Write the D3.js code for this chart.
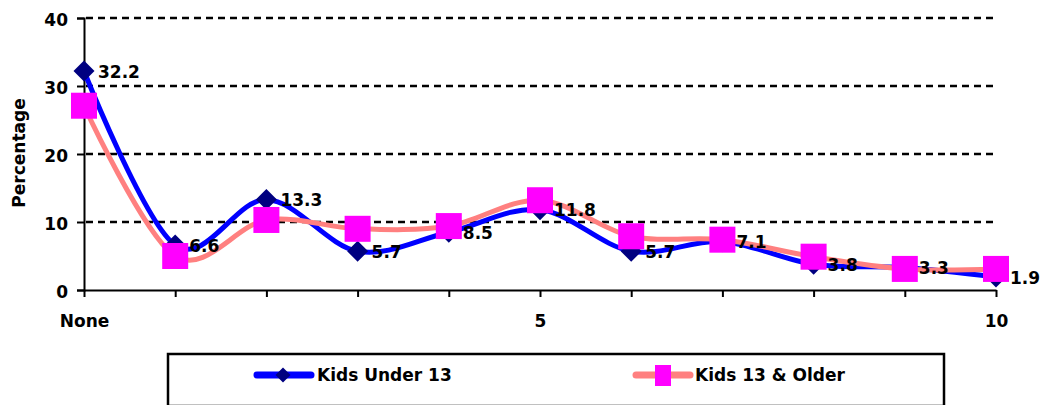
<!DOCTYPE html>
<html>
<head>
<meta charset="utf-8">
<script src="https://cdn.jsdelivr.net/npm/d3@7"></script>
<style>
  html, body { margin: 0; padding: 0; background: #fff; }
  svg text { font-family: "DejaVu Sans", sans-serif; font-weight: bold; }
</style>
</head>
<body>
<svg id="chart" width="1047" height="405"></svg>
<script>
const categories = ["None", "1", "2", "3", "4", "5", "6", "7", "8", "9", "10"];
const categoryLabels = ["None", "", "", "", "", "5", "", "", "", "", "10"];
const kidsUnder13 = [32.2, 6.6, 13.3, 5.7, 8.5, 11.8, 5.7, 7.1, 3.8, 3.3, 1.9];
const kids13Older = [27.1, 5.0, 10.3, 9.0, 9.4, 13.2, 7.9, 7.4, 4.9, 3.1, 3.1];
const yTicks = [0, 10, 20, 30, 40];
const seriesNames = ["Kids Under 13", "Kids 13 & Older"];

const svg = d3.select("#chart");
const x = d3.scalePoint().domain(categories).range([84, 996]);
const y = d3.scaleLinear().domain([0, 40]).range([290, 18]);

// gridlines
svg.append("g").selectAll("line").data(yTicks.filter(d => d > 0)).join("line")
  .attr("x1", 86).attr("x2", 998)
  .attr("y1", d => y(d)).attr("y2", d => y(d))
  .attr("stroke", "#000").attr("stroke-width", 2.5)
  .attr("stroke-dasharray", "7,5");

// y axis
const yAxis = svg.append("g").attr("transform", "translate(84,0)")
  .call(d3.axisLeft(y).tickValues(yTicks).tickSize(7).tickPadding(9).tickFormat(d3.format("d")));
yAxis.select(".domain").attr("stroke", "#000").attr("stroke-width", 2);
yAxis.selectAll(".tick line").attr("stroke", "#000").attr("stroke-width", 2);
yAxis.selectAll(".tick text").attr("font-size", 17).attr("fill", "#000")
  .attr("font-family", "DejaVu Sans").attr("font-weight", "bold").attr("dy", "0.42em");

// x axis
const xAxis = svg.append("g").attr("transform", "translate(0,290)")
  .call(d3.axisBottom(x).tickSize(7).tickSizeOuter(0).tickPadding(18)
    .tickFormat((d, i) => categoryLabels[i]));
xAxis.select(".domain").attr("stroke", "#000").attr("stroke-width", 2);
xAxis.selectAll(".tick line").attr("stroke", "#000").attr("stroke-width", 2);
xAxis.selectAll(".tick text").attr("font-size", 17).attr("fill", "#000")
  .attr("font-family", "DejaVu Sans").attr("font-weight", "bold");

// y title
svg.append("text")
  .attr("transform", "translate(25,153) rotate(-90)")
  .attr("text-anchor", "middle")
  .attr("font-size", 17)
  .attr("fill", "#000")
  .text("Percentage");

const line = d3.line()
  .x((d, i) => x(categories[i]))
  .y(d => y(d))
  .curve(d3.curveCardinal.tension(0));

// blue series
svg.append("path").datum(kidsUnder13)
  .attr("d", line).attr("fill", "none")
  .attr("stroke", "#0000FF").attr("stroke-width", 5).attr("stroke-linejoin", "round");
const diamond = (cx, cy, r) => `M${cx},${cy - r}L${cx + r},${cy}L${cx},${cy + r}L${cx - r},${cy}Z`;
svg.append("g").selectAll("path").data(kidsUnder13).join("path")
  .attr("d", (d, i) => diamond(x(categories[i]), y(d), 10.5))
  .attr("fill", "#000080");

// pink series
svg.append("path").datum(kids13Older)
  .attr("d", line).attr("fill", "none")
  .attr("stroke", "#FF8080").attr("stroke-width", 5).attr("stroke-linejoin", "round");
svg.append("g").selectAll("rect").data(kids13Older).join("rect")
  .attr("x", (d, i) => x(categories[i]) - 13)
  .attr("y", d => y(d) - 13)
  .attr("width", 26).attr("height", 26)
  .attr("fill", "#FF00FF");

// data labels
svg.append("g").selectAll("text").data(kidsUnder13).join("text")
  .attr("x", (d, i) => x(categories[i]) + 14)
  .attr("y", d => y(d))
  .attr("dy", "0.38em")
  .attr("font-size", 17)
  .attr("fill", "#000")
  .text(d => d3.format(".1f")(d));

// legend
const lg = svg.append("g");
lg.append("rect").attr("x", 168).attr("y", 354).attr("width", 776).attr("height", 52)
  .attr("fill", "#fff").attr("stroke", "#000").attr("stroke-width", 2.5);
lg.append("line").attr("x1", 257).attr("x2", 311).attr("y1", 375).attr("y2", 375)
  .attr("stroke", "#0000FF").attr("stroke-width", 7).attr("stroke-linecap", "round");
lg.append("path").attr("d", diamond(283, 375, 7.5)).attr("fill", "#000080");
lg.append("text").attr("x", 317).attr("y", 375).attr("dy", "0.38em")
  .attr("font-size", 17).attr("fill", "#000").text(seriesNames[0]);
lg.append("line").attr("x1", 636).attr("x2", 690).attr("y1", 375).attr("y2", 375)
  .attr("stroke", "#FF8080").attr("stroke-width", 7).attr("stroke-linecap", "round");
lg.append("rect").attr("x", 655).attr("y", 365).attr("width", 16).attr("height", 21).attr("fill", "#FF00FF");
lg.append("text").attr("x", 695).attr("y", 375).attr("dy", "0.38em")
  .attr("font-size", 17).attr("fill", "#000").text(seriesNames[1]);
</script>
</body>
</html>
